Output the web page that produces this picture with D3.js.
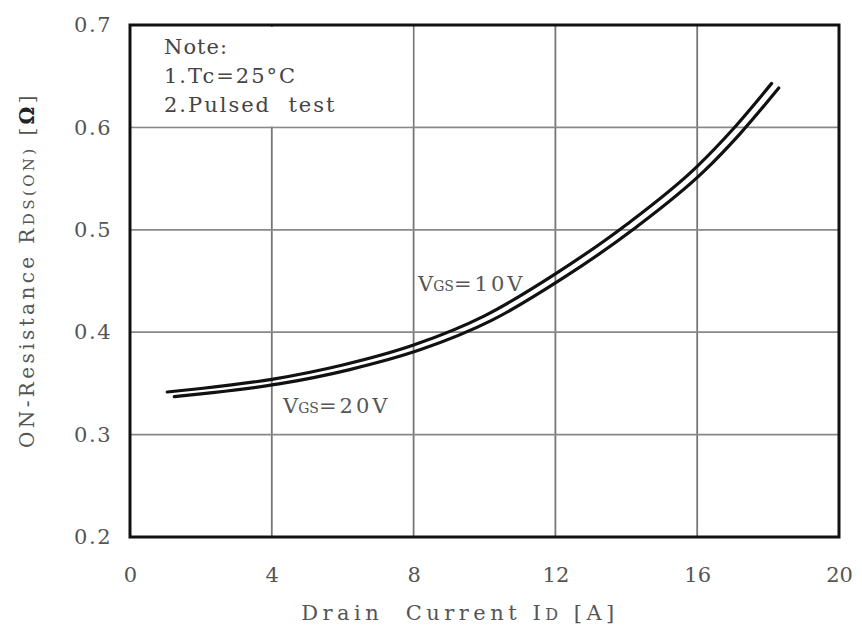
<!DOCTYPE html>
<html><head><meta charset="utf-8">
<script src="https://cdn.jsdelivr.net/npm/d3@7/dist/d3.min.js"></script>
<style>body{margin:0;background:#fff}</style>
</head><body><svg id="c" width="862" height="634"></svg>
<script>
const xTicks = [0, 4, 8, 12, 16, 20];
const yTicks = [0.2, 0.3, 0.4, 0.5, 0.6, 0.7];
const id10 = [1.05, 2, 4, 6, 8, 10, 12, 14, 16, 17, 18.1];
const r10  = [0.3416, 0.345, 0.354, 0.368, 0.3875, 0.416, 0.457, 0.505, 0.562, 0.598, 0.643];
const id20 = [1.25, 2.2, 4.2, 6.2, 8.2, 10.2, 12.2, 14.2, 16.2, 17.2, 18.3];
const r20  = [0.337, 0.3405, 0.3495, 0.3635, 0.383, 0.4115, 0.4525, 0.5005, 0.5575, 0.5935, 0.6385];
const notes = ["Note:", "1.Tc=25°C", "2.Pulsed\u00a0\u00a0test"];

const svg = d3.select("#c");
const L = 130, R = 839, T = 25, B = 537;
const x = d3.scaleLinear().domain([0, 20]).range([L, R]);
const y = d3.scaleLinear().domain([0.2, 0.7]).range([B, T]);
const font = "'DejaVu Serif', serif";
const txt = "#555";

// grid
const g = svg.append("g");
g.selectAll("line.v").data(xTicks.slice(1, -1)).enter().append("line")
  .attr("x1", d => x(d)).attr("x2", d => x(d)).attr("y1", T).attr("y2", B)
  .attr("stroke", "#777").attr("stroke-width", 1.8);
g.selectAll("line.h").data(yTicks.slice(1, -1)).enter().append("line")
  .attr("x1", L).attr("x2", R).attr("y1", d => y(d)).attr("y2", d => y(d))
  .attr("stroke", "#888").attr("stroke-width", 1.8);
// note box (hides grid)
svg.append("rect").attr("x", L + 2).attr("y", T + 2)
  .attr("width", x(8) - L - 3).attr("height", y(0.6) - T - 3).attr("fill", "#fff");

// frame
svg.append("rect").attr("x", L).attr("y", T).attr("width", R - L).attr("height", B - T)
  .attr("fill", "none").attr("stroke", "#111").attr("stroke-width", 3);

// axes tick labels via d3 axes
const xa = svg.append("g").attr("transform", `translate(0,${B})`)
  .call(d3.axisBottom(x).tickValues(xTicks).tickSize(0).tickPadding(30).tickFormat(d3.format("d")));
const ya = svg.append("g").attr("transform", `translate(${L},0)`)
  .call(d3.axisLeft(y).tickValues(yTicks).tickSize(0).tickPadding(18).tickFormat(d3.format(".1f")));
[xa, ya].forEach(a => {
  a.select(".domain").remove();
  a.selectAll("text").attr("font-family", font).attr("font-size", 21).attr("fill", txt);
});
ya.selectAll("text").attr("letter-spacing", 1.5);

// curves
const line = d3.line().x(d => x(d[0])).y(d => y(d[1])).curve(d3.curveMonotoneX);
[[id10, r10], [id20, r20]].forEach(([xs, ys]) => {
  svg.append("path").datum(xs.map((v, i) => [v, ys[i]])).attr("d", line)
    .attr("fill", "none").attr("stroke", "#111").attr("stroke-width", 3.2)
    .attr("stroke-linecap", "round");
});

// notes
notes.forEach((t, i) => {
  svg.append("text").attr("x", 164).attr("y", 54 + i * 29).text(t)
    .attr("font-family", font).attr("font-size", 21).attr("fill", "#444")
    .attr("letter-spacing", i === 0 ? 1 : 2);
});

// VGS labels
function vgs(px, py, v) {
  const t = svg.append("text").attr("x", px).attr("y", py)
    .attr("font-family", font).attr("font-size", 21).attr("fill", txt);
  t.append("tspan").text("V");
  t.append("tspan").text("GS").attr("font-size", 14);
  t.append("tspan").text("=" + v).attr("letter-spacing", 3);
}
vgs(418, 291, "10V");
vgs(283, 413, "20V");

// axis titles
const xt = svg.append("text").attr("x", 460).attr("y", 620).attr("text-anchor", "middle")
  .attr("font-family", font).attr("font-size", 21).attr("fill", txt).attr("letter-spacing", 4.5);
xt.append("tspan").text("Drain\u00a0\u00a0Current\u00a0I");
xt.append("tspan").text("D").attr("font-size", 16);
xt.append("tspan").text("\u00a0[A]");
const yt = svg.append("text").attr("transform", "translate(34,270) rotate(-90)")
  .attr("text-anchor", "middle").attr("font-family", font).attr("font-size", 20)
  .attr("fill", txt).attr("letter-spacing", 3.4);
yt.append("tspan").text("ON-Resistance R");
yt.append("tspan").text("DS(ON)").attr("font-size", 15);
yt.append("tspan").text("\u00a0[");
yt.append("tspan").text("Ω").attr("font-weight", "bold").attr("fill", "#222");
yt.append("tspan").text("]");
</script></body></html>
